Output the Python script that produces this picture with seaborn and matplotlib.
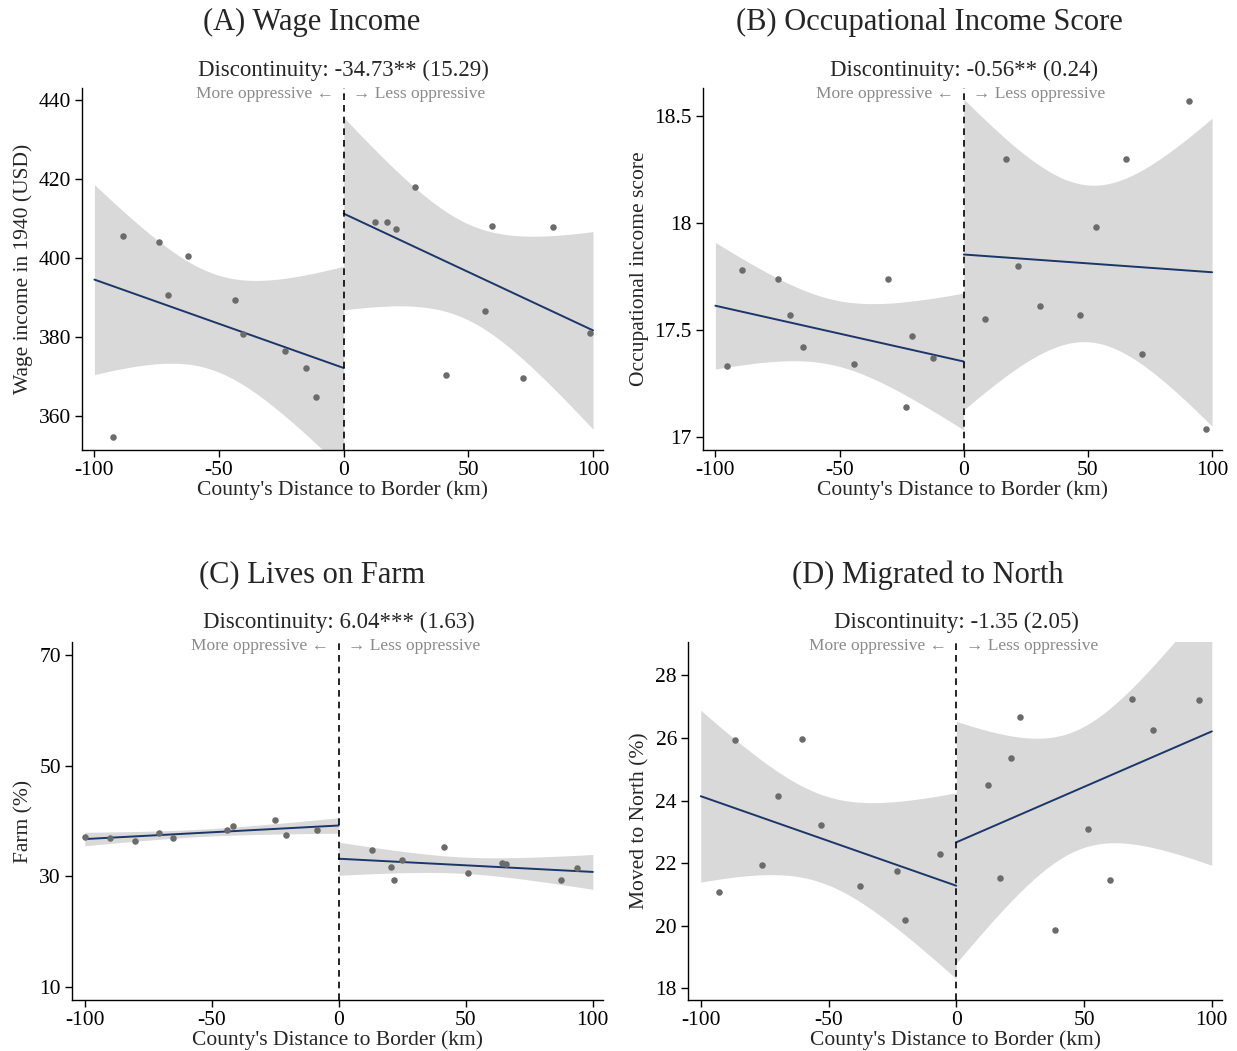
import numpy as np
import matplotlib
matplotlib.use("Agg")
import matplotlib.pyplot as plt
import matplotlib.transforms as mtransforms
import seaborn as sns

# binned county means, left (-) and right (+) of the border
wage_x_left = [-92.4, -88.6, -74.0, -70.7, -62.6, -43.8, -40.4, -23.5, -15.3, -11.2]
wage_y_left = [354.8, 405.5, 404.1, 390.6, 400.5, 389.3, 380.8, 376.4, 372.2, 364.8]
wage_x_right = [12.5, 17.4, 20.8, 28.5, 41.2, 56.8, 59.6, 72.1, 83.9, 98.6]
wage_y_right = [409.2, 409.2, 407.4, 418.0, 370.4, 386.6, 408.2, 369.6, 407.8, 381.0]

occ_x_left = [-95.5, -89.4, -74.7, -70.0, -64.9, -44.0, -30.4, -23.4, -21.0, -12.4]
occ_y_left = [17.33, 17.78, 17.74, 17.57, 17.42, 17.34, 17.74, 17.14, 17.47, 17.37]
occ_x_right = [8.4, 16.9, 21.7, 30.9, 46.9, 53.1, 65.5, 71.6, 90.7, 97.5]
occ_y_right = [17.55, 18.30, 17.80, 17.61, 17.57, 17.98, 18.30, 17.39, 18.57, 17.04]

farm_x_left = [-99.8, -90.2, -80.3, -70.7, -65.4, -43.9, -41.7, -25.1, -20.6, -8.7]
farm_y_left = [37.1, 36.9, 36.4, 37.8, 36.9, 38.4, 39.1, 40.1, 37.4, 38.4]
farm_x_right = [12.9, 20.5, 21.6, 24.8, 41.6, 51.0, 64.4, 65.9, 87.4, 93.6]
farm_y_right = [34.8, 31.7, 29.3, 33.0, 35.3, 30.6, 32.5, 32.3, 29.3, 31.6]

north_x_left = [-92.9, -86.6, -75.9, -69.9, -60.5, -53.0, -37.7, -23.2, -20.2, -6.2]
north_y_left = [21.07, 25.95, 21.95, 24.16, 25.97, 23.22, 21.27, 21.75, 20.17, 22.30]
north_x_right = [12.5, 17.1, 21.6, 25.0, 38.6, 51.4, 60.2, 68.9, 77.1, 94.9]
north_y_right = [24.51, 21.53, 25.35, 26.68, 19.87, 23.10, 21.46, 27.25, 26.24, 27.22]

titles = ["(A) Wage Income", "(B) Occupational Income Score",
          "(C) Lives on Farm", "(D) Migrated to North"]
disc_labels = ["Discontinuity: -34.73** (15.29)", "Discontinuity: -0.56** (0.24)",
               "Discontinuity: 6.04*** (1.63)", "Discontinuity: -1.35 (2.05)"]
ylabels = ["Wage income in 1940 (USD)", "Occupational income score",
           "Farm (%)", "Moved to North (%)"]
yticks = [[360, 380, 400, 420, 440], [17, 17.5, 18, 18.5],
          [10, 30, 50, 70], [18, 20, 22, 24, 26, 28]]
ytick_labels = [["360", "380", "400", "420", "440"], ["17", "17.5", "18", "18.5"],
                ["10", "30", "50", "70"], ["18", "20", "22", "24", "26", "28"]]
ylims = [(351.5, 443), (16.94, 18.63), (7.7, 72.3), (17.62, 29.07)]

panels = [
    (wage_x_left, wage_y_left, wage_x_right, wage_y_right),
    (occ_x_left, occ_y_left, occ_x_right, occ_y_right),
    (farm_x_left, farm_y_left, farm_x_right, farm_y_right),
    (north_x_left, north_y_left, north_x_right, north_y_right),
]

T975 = 2.306  # t quantile, 8 degrees of freedom (10 bins per side)


def ci_band(xs, ys, grid):
    x = np.asarray(xs)
    y = np.asarray(ys)
    b, a = np.polyfit(x, y, 1)
    resid = y - (a + b * x)
    s = np.sqrt(np.sum(resid ** 2) / (len(x) - 2))
    sxx = np.sum((x - x.mean()) ** 2)
    se = s * np.sqrt(1 / len(x) + (grid - x.mean()) ** 2 / sxx)
    fit = a + b * grid
    return fit - T975 * se, fit + T975 * se


sns.set_style("ticks")
plt.rcParams["font.family"] = ["Liberation Serif", "DejaVu Serif"]

W, H = 1237, 1051
fig = plt.figure(figsize=(W / 100, H / 100), dpi=100)

# axes boxes in pixels: left, top, right, bottom
boxes = [(82, 88, 603, 450), (703, 88, 1222, 450),
         (72, 642, 603, 1000), (688, 642, 1222, 1000)]
cell_centers = [312, 929, 312, 928]
title_y = [22, 22, 575, 575]
disc_y = [70, 70, 622, 622]
opp_y = [94, 94, 646, 646]

navy = "#1b3668"
dot = "#6b6b6b"
band = "#d9d9d9"

for i, (xl, yl, xr, yr) in enumerate(panels):
    l, t, r, b = boxes[i]
    ax = fig.add_axes([l / W, 1 - b / H, (r - l) / W, (b - t) / H])

    for xs, ys, lim in [(xl, yl, (-100, 0)), (xr, yr, (0, 100))]:
        ax.set_xlim(*lim)
        grid = np.linspace(lim[0], lim[1], 200)
        lo, hi = ci_band(xs, ys, grid)
        ax.fill_between(grid, lo, hi, color=band, lw=0, zorder=1)
        sns.regplot(x=np.array(xs), y=np.array(ys), ax=ax, ci=None,
                    truncate=False,
                    scatter_kws={"color": dot, "s": 22, "alpha": 1, "zorder": 3,
                                 "linewidths": 0},
                    line_kws={"color": navy, "lw": 1.4, "zorder": 2})

    ax.axvline(0, color="black", ls=(0, (4, 3)), lw=1.2, zorder=2)
    ax.set_xlim(-105, 104)
    ax.set_ylim(*ylims[i])
    ax.set_xticks([-100, -50, 0, 50, 100])
    ax.set_xticklabels(["-100", "-50", "0", "50", "100"])
    ax.set_yticks(yticks[i])
    ax.set_yticklabels(ytick_labels[i])
    ax.tick_params(labelsize=15.5, length=5, width=1, colors="black", pad=3)
    ax.set_xlabel("County's Distance to Border (km)", fontsize=15.5, labelpad=0)
    ax.set_ylabel(ylabels[i], fontsize=15.5, labelpad=4)
    sns.despine(ax=ax)
    for s in ["left", "bottom"]:
        ax.spines[s].set_linewidth(1)
        ax.spines[s].set_color("black")

    tr = mtransforms.blended_transform_factory(ax.transData, fig.transFigure)
    ax.text(0, 1 - disc_y[i] / H, disc_labels[i], transform=tr, ha="center",
            va="center", fontsize=16.5)
    ax.annotate("More oppressive \u2190", xy=(0, 1 - opp_y[i] / H), xycoords=tr,
                xytext=(-7, 0), textcoords="offset points", ha="right",
                va="center", fontsize=12.5, color="#8a8a8a")
    ax.annotate("\u2192 Less oppressive", xy=(0, 1 - opp_y[i] / H), xycoords=tr,
                xytext=(7, 0), textcoords="offset points", ha="left",
                va="center", fontsize=12.5, color="#8a8a8a")

    fig.text(cell_centers[i] / W, 1 - title_y[i] / H, titles[i], ha="center",
             va="center", fontsize=22)

fig.savefig("out.png", dpi=100)
